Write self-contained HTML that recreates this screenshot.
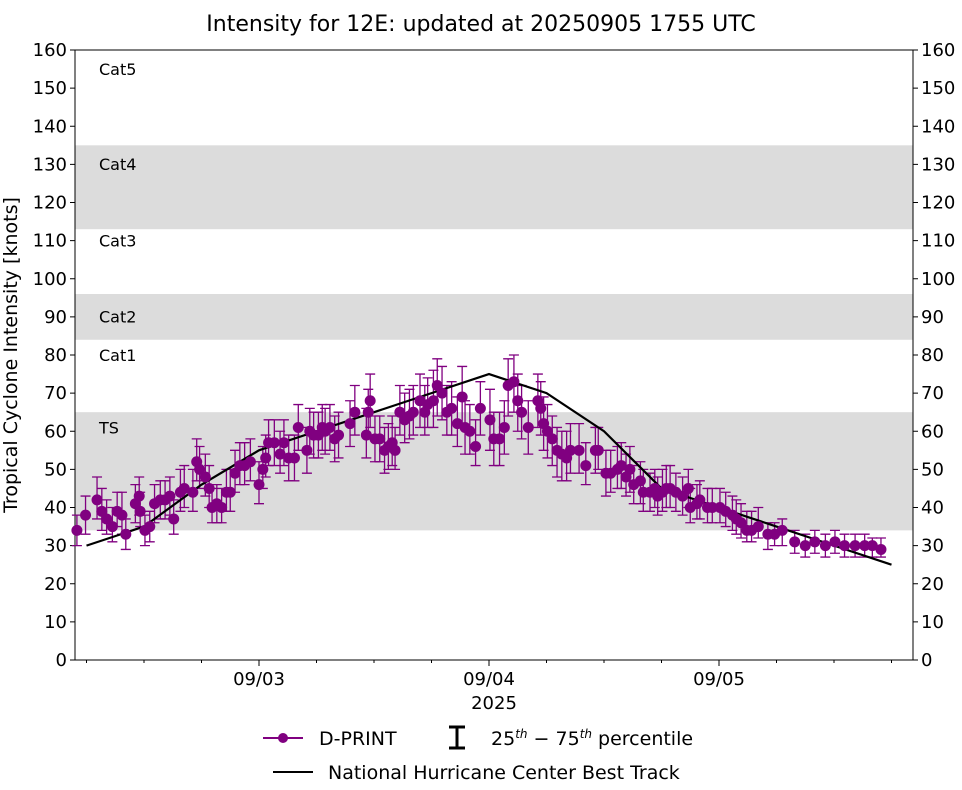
<!DOCTYPE html>
<html><head><meta charset="utf-8">
<style>
body{margin:0;background:#fff;font-family:"Liberation Sans","DejaVu Sans",sans-serif;}
svg text{font-family:"DejaVu Sans","Liberation Sans",sans-serif;}
</style></head>
<body>
<svg id="chart" width="962" height="785" xmlns="http://www.w3.org/2000/svg">
<text x="481" y="31" font-size="22" text-anchor="middle">Intensity for 12E: updated at 20250905 1755 UTC</text>
<g id="bands"></g><g id="axes"></g><g id="series"></g>
<text transform="translate(17,355) rotate(-90)" font-size="19" text-anchor="middle">Tropical Cyclone Intensity [knots]</text>
<text x="494" y="709" font-size="18" text-anchor="middle">2025</text>
<g>
<line x1="263" y1="738" x2="303" y2="738" stroke="#800080" stroke-width="2"/>
<circle cx="283" cy="738" r="5" fill="#800080"/>
<text x="319" y="745" font-size="19">D-PRINT</text>
<path d="M449 727 H465 M457 727 V748 M449 748 H465" stroke="#000" stroke-width="3" fill="none"/>
<text x="491" y="745" font-size="19">25<tspan font-size="12" dy="-7" font-style="italic">th</tspan><tspan dy="7"> − 75</tspan><tspan font-size="12" dy="-7" font-style="italic">th</tspan><tspan dy="7"> percentile</tspan></text>
<line x1="273" y1="772" x2="313" y2="772" stroke="#000" stroke-width="2"/>
<text x="328" y="779" font-size="19">National Hurricane Center Best Track</text>
</g>
</svg>
<script>
const yTicks=[0,10,20,30,40,50,60,70,80,90,100,110,120,130,140,150,160];
const dayTicks=[24,48,72];
const dayLabels=["09/03","09/04","09/05"];
const bands=[[34,65,"TS"],[84,96,"Cat2"],[113,135,"Cat4"]];
const catLabels=[["Cat5",154],["Cat4",129],["Cat3",109],["Cat2",89],["Cat1",79],["TS",60]];
const btHours=[6,12,18,24,30,36,42,48,54,60,66,72,78,84,90];
const btVals=[30,35,46,55,60,65,70,75,70,60,45,40,35,30,25];
const dpHours=[5.0,5.9,7.1,7.6,8.1,8.7,9.2,9.7,10.1,11.1,11.5,11.6,12.1,12.6,13.1,13.7,14.2,14.7,15.1,15.8,16.2,17.1,17.5,17.8,18.4,18.8,19.1,19.6,20.1,20.6,21.0,21.5,22.0,22.5,23.1,24.0,24.4,24.7,25.0,25.6,26.2,26.6,27.1,27.7,28.1,29.0,29.3,29.7,30.2,30.6,30.9,31.4,31.9,32.3,33.5,34.0,35.2,35.4,35.6,36.1,36.6,37.1,37.5,37.9,38.2,38.7,39.2,39.7,40.1,40.8,41.3,41.6,42.2,42.6,43.1,43.6,44.1,44.7,45.2,45.5,46.0,46.6,47.1,48.1,48.5,49.1,49.6,50.0,50.6,51.0,51.4,52.1,53.1,53.4,53.7,54.1,54.6,55.1,55.6,56.1,56.5,57.4,58.1,59.1,59.4,60.2,60.7,61.4,61.8,62.3,62.7,63.1,63.8,64.1,64.8,65.3,65.6,66.1,66.5,66.9,67.5,68.2,68.8,69.0,69.7,70.0,70.8,71.3,72.1,72.7,73.4,73.8,74.3,74.9,75.4,76.1,77.1,77.8,78.6,79.9,81.0,82.0,83.1,84.1,85.1,86.2,87.2,88.0,88.9];
const dpVals=[34,38,42,39,37,35,39,38,33,41,43,39,34,35,41,42,42,43,37,44,45,44,52,50,48,45,40,41,40,44,44,49,51,51,52,46,50,53,57,57,54,57,53,53,61,55,60,59,59,61,60,61,58,59,62,65,59,65,68,58,58,55,56,57,55,65,63,64,65,68,65,67,68,72,70,65,66,62,69,61,60,56,66,63,58,58,61,72,73,68,65,61,68,66,62,60,58,55,54,53,55,55,51,55,55,49,49,50,51,48,50,46,47,44,44,45,43,44,45,45,44,43,45,40,41,42,40,40,40,39,38,37,36,34,34,35,33,33,34,31,30,31,30,31,30,30,30,30,29];
const dpLo=[30,33,37,34,33,31,35,33,29,36,38,35,30,31,36,37,37,38,33,39,40,39,47,45,43,40,36,36,36,39,39,44,46,46,47,41,45,48,51,51,49,51,47,47,55,49,54,53,53,55,54,55,52,53,56,59,53,59,61,52,52,49,50,51,50,59,57,58,59,61,59,61,61,64,63,59,59,56,62,54,54,51,59,55,51,51,54,64,65,60,58,54,61,59,55,53,51,48,47,47,49,49,46,49,50,43,44,45,45,43,44,41,41,39,39,40,38,39,40,40,39,38,40,36,37,37,36,36,36,35,34,33,32,31,31,32,29,30,30,28,27,28,27,28,27,27,27,27,27];
const dpHi=[38,43,48,45,42,40,44,44,37,46,48,44,38,39,46,47,47,48,42,50,51,50,58,56,54,51,45,46,45,50,50,55,57,57,58,52,56,59,63,63,60,63,59,59,67,61,66,65,65,67,66,67,64,65,68,72,66,71,75,64,64,61,62,64,61,72,70,71,72,75,72,74,76,79,77,72,73,69,77,68,67,63,73,71,65,65,68,79,80,75,72,68,75,73,69,67,64,61,60,60,62,62,57,61,61,55,55,56,57,54,56,51,52,50,49,50,48,50,51,51,49,48,50,45,46,47,45,45,45,44,43,42,41,39,39,40,36,36,37,34,33,34,33,34,33,33,33,32,32];

const NS="http://www.w3.org/2000/svg";
const L=75,R=913,T=50,B=660;
const xs=h=>259+(h-24)*230/24;
const ys=v=>B-v*(B-T)/160;
function mk(tag,attrs,parent){const e=document.createElementNS(NS,tag);for(const k in attrs)e.setAttribute(k,attrs[k]);parent.appendChild(e);return e;}
const gB=document.getElementById('bands'),gA=document.getElementById('axes'),gS=document.getElementById('series');
bands.forEach(b=>{
  const r=mk('rect',{x:L,y:ys(b[1]),width:R-L,height:ys(b[0])-ys(b[1]),fill:'#dcdcdc'},gB);
  
  
});
catLabels.forEach(c=>{
  const t=mk('text',{x:99,y:ys(c[1])+2,'font-size':16},gB);t.textContent=c[0];
  
  
});
const frame=mk('rect',{x:L,y:T,width:R-L,height:B-T,fill:'none',stroke:'#000','stroke-width':1},gA);


yTicks.forEach(v=>{
  const y=ys(v);
  mk('line',{x1:L-5,y1:y,x2:L,y2:y,stroke:'#000'},gA);
  mk('line',{x1:R,y1:y,x2:R+5,y2:y,stroke:'#000'},gA);
  const t1=mk('text',{x:L-8,y:y+6,'font-size':18,'text-anchor':'end'},gA);t1.textContent=v;
  
  
  const t2=mk('text',{x:R+8,y:y+6,'font-size':18},gA);t2.textContent=v;
  
  
});
for(let h=6;h<=90;h+=6){const x=xs(h);if(x>L&&x<R)mk('line',{x1:x,y1:B,x2:x,y2:B+3,stroke:'#000'},gA);}
dayTicks.forEach((h,i)=>{
  const x=xs(h);mk('line',{x1:x,y1:B,x2:x,y2:B+6,stroke:'#000'},gA);
  const t=mk('text',{x:x,y:B+25,'font-size':18,'text-anchor':'middle'},gA);t.textContent=dayLabels[i];
  
  
});
dpHours.forEach((h,i)=>{
  const x=xs(h),y1=ys(dpLo[i]),y2=ys(dpHi[i]);
  const e=mk('path',{d:`M${x-5} ${y1}H${x+5}M${x} ${y1}V${y2}M${x-5} ${y2}H${x+5}`,stroke:'#800080','stroke-width':1.3,fill:'none'},gS);
  
  
});
const bt=mk('polyline',{points:btHours.map((h,i)=>xs(h)+','+ys(btVals[i])).join(' '),fill:'none',stroke:'#000','stroke-width':2.2},gS);


dpHours.forEach((h,i)=>{
  const c=mk('circle',{cx:xs(h),cy:ys(dpVals[i]),r:5.5,fill:'#800080'},gS);
  
  
});
</script>
</body></html>
